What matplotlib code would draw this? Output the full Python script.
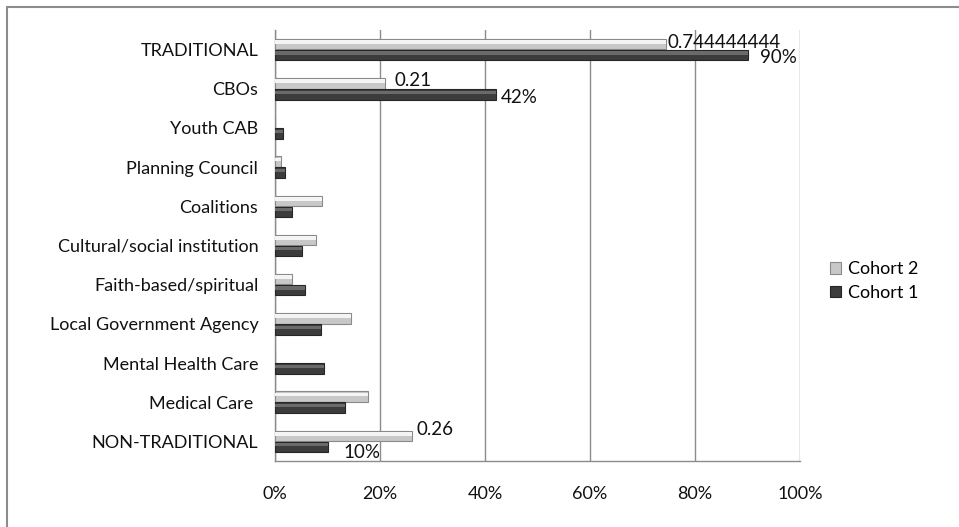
import matplotlib
matplotlib.use("Agg")
import matplotlib.pyplot as plt
from matplotlib.patches import Rectangle

plt.rcParams["font.family"] = ["Lato", "DejaVu Sans"]

# 데이터 (그림에서 읽은 값, %)
categories = ["TRADITIONAL", "CBOs", "Youth CAB", "Planning Council", "Coalitions",
              "Cultural/social institution", "Faith-based/spiritual",
              "Local Government Agency", "Mental Health Care", "Medical Care ",
              "NON-TRADITIONAL"]
cohort2 = [74.4444444, 21.0, 0.0, 1.1, 8.9, 7.8, 3.3, 14.4, 0.0, 17.8, 26.0]
cohort1 = [90.0, 42.0, 1.5, 1.9, 3.2, 5.2, 5.7, 8.7, 9.3, 13.3, 10.0]
xticks = [0, 20, 40, 60, 80, 100]

# 데이터 레이블 (범주 번호, 텍스트)
labels_c2 = [(0, "0.744444444"), (1, "0.21"), (10, "0.26")]
labels_c1 = [(0, "90%"), (1, "42%"), (10, "10%")]

C2_FACE, C2_HI, C2_EDGE = "#c8c8c8", "#f4f4f4", "#8a8a8a"
C1_FACE, C1_HI, C1_EDGE = "#3c3c3c", "#6a6a6a", "#262626"
GRID = "#8c8c8c"

fig = plt.figure(figsize=(9.59, 5.27), dpi=100)
ax = fig.add_axes([275 / 959, 1 - 461 / 527, 525 / 959, 431 / 527])

n = len(categories)
ypos = [n - 1 - i for i in range(n)]
h = 0.27
off = 0.14

y2 = [y + off for y in ypos]
y1 = [y - off for y in ypos]
ax.barh(y2, cohort2, height=h, color=C2_FACE, edgecolor=C2_EDGE, linewidth=0.8,
        zorder=3, label="Cohort 2")
ax.barh([y + h * 0.2 for y in y2], cohort2, height=h * 0.35, color=C2_HI,
        linewidth=0, zorder=4)
ax.barh(y1, cohort1, height=h, color=C1_FACE, edgecolor=C1_EDGE, linewidth=0.8,
        zorder=3, label="Cohort 1")
ax.barh([y + h * 0.2 for y in y1], cohort1, height=h * 0.3, color=C1_HI,
        linewidth=0, zorder=4)

# 레이블 위치 (픽셀 오프셋)
c2_off = {0: (2, 2, "left"), 1: (9, 3, "left"), 10: (5, 6, "left")}
c1_off = {0: (49, -2, "right"), 1: (5, -3, "left"), 10: (16, -6, "left")}
for i, txt in labels_c2:
    dx, dy, ha = c2_off[i]
    ax.annotate(txt, (cohort2[i], y2[i]), xytext=(dx, dy),
                textcoords="offset pixels", ha=ha, va="center",
                fontsize=13.5, color="#111111", zorder=6)
for i, txt in labels_c1:
    dx, dy, ha = c1_off[i]
    ax.annotate(txt, (cohort1[i], y1[i]), xytext=(dx, dy),
                textcoords="offset pixels", ha=ha, va="center",
                fontsize=13.5, color="#111111", zorder=6)

ax.set_xlim(0, 100)
ax.set_ylim(-0.5, n - 0.5)
ax.set_xticks(xticks)
ax.set_xticklabels([f"{t}%" for t in xticks])
ax.set_yticks(ypos)
ax.set_yticklabels(categories)
ax.tick_params(axis="both", length=0, labelsize=13, colors="#111111")
ax.tick_params(axis="x", pad=18)
ax.tick_params(axis="y", pad=12)
ax.grid(axis="x", color=GRID, linewidth=1, zorder=0)
for s in ["top", "right"]:
    ax.spines[s].set_visible(False)
for s in ["left", "bottom"]:
    ax.spines[s].set_color(GRID)
    ax.spines[s].set_linewidth(1)

handles, labs = ax.get_legend_handles_labels()
fig.legend(handles, labs, loc="center left",
           bbox_to_anchor=(814 / 959, 1 - 281 / 527), frameon=False,
           fontsize=13, handlelength=0.6, handleheight=0.6,
           handletextpad=0.4, labelspacing=0.4)

fig.add_artist(Rectangle((7 / 959, -0.05), 1.1, 1 - 7 / 527 + 0.05,
                         transform=fig.transFigure, fill=False,
                         edgecolor=GRID, linewidth=1.5))

fig.savefig("out.png", dpi=100)
